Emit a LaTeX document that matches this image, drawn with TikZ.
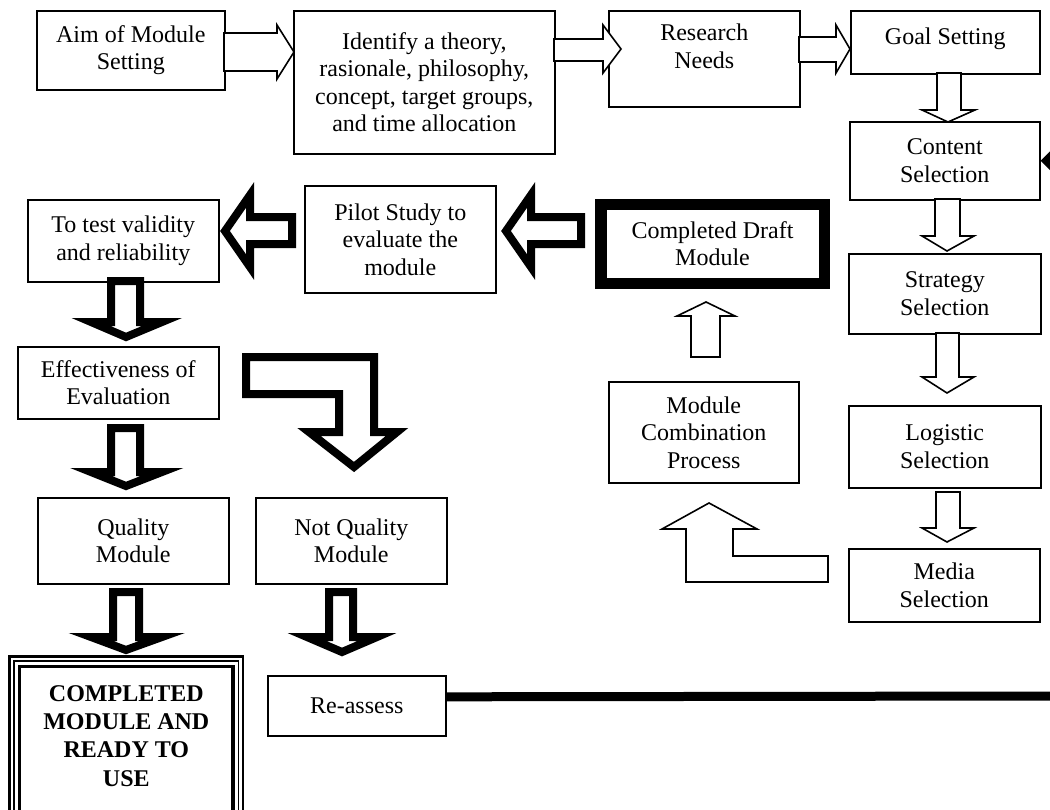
\documentclass[tikz,border=0pt]{standalone}
\usepackage{fontspec}
\setmainfont{Liberation Serif}
\begin{document}
\begin{tikzpicture}[x=1pt,y=-1pt,
  box/.style={draw, line width=1.6pt, align=center, inner sep=0pt, anchor=north west,
    font=\fontsize{24}{27.5}\selectfont},
  thinarrow/.style={draw, line width=1.6pt, fill=white, line join=miter},
  thickarrow/.style={draw, line width=8pt, fill=white, line join=miter, miter limit=10},
]
\useasboundingbox (0,0) rectangle (1050,809);
\clip (0,0) rectangle (1050,809);
\fill[white] (0,0) rectangle (1050,809);

% ---------- boxes ----------
\node[box, minimum width=188, minimum height=79] (aim) at (36,10) {Aim of Module\\Setting};
\node[box, minimum width=261, minimum height=143] (ident) at (293,10)
  {Identify a theory,\\rasionale, philosophy,\\concept, target groups,\\and time allocation};
\node[box, minimum width=191, minimum height=96] (research) at (608,10)
  {\raisebox{10pt}[\height][\depth]{\begin{tabular}{@{}c@{}}Research\\Needs\end{tabular}}};
\node[box, minimum width=189, minimum height=63] (goal) at (850,10)
  {\raisebox{4pt}[\height][\depth]{Goal Setting}};
\node[box, minimum width=190, minimum height=78] (content) at (849,121) {Content\\Selection};
\node[box, minimum width=192, minimum height=80] (strategy) at (848,253) {Strategy\\Selection};
\node[box, minimum width=192, minimum height=82] (logistic) at (848,405) {Logistic\\Selection};
\node[box, minimum width=191, minimum height=73] (media) at (848,548) {Media\\Selection};
\node[box, line width=11.5pt, minimum width=223.5, minimum height=79] (draft) at (595,198.5)
  {Completed Draft\\Module};
\node[box, minimum width=190, minimum height=101] (combo) at (608,381)
  {Module\\Combination\\Process};
\node[box, minimum width=191, minimum height=107] (pilot) at (304,185)
  {Pilot Study to\\evaluate the\\module};
\node[box, minimum width=191, minimum height=82] (test) at (27,199)
  {To test validity\\and reliability};
\node[box, minimum width=201, minimum height=72] (eff) at (17,346)
  {Effectiveness of\\Evaluation};
\node[box, minimum width=191, minimum height=86] (qual) at (37,497) {Quality\\Module};
\node[box, minimum width=191, minimum height=86] (notq) at (255,497) {Not Quality\\Module};
\node[box, minimum width=178, minimum height=60] (reassess) at (267,675) {Re-assess};
\node[box, draw=none, minimum width=235, minimum height=160,
  font=\fontsize{24}{28.3}\selectfont\bfseries] (done) at (8,655)
  {COMPLETED\\MODULE AND\\READY TO\\USE};
\draw[line width=2.6pt] ([shift={(1.5,1.5)}]done.north west) rectangle ([shift={(-1.5,30)}]done.south east);
\draw[line width=1.4pt] ([shift={(6,6)}]done.north west) rectangle ([shift={(-6,30)}]done.south east);
\draw[line width=3.4pt] ([shift={(11.5,11.5)}]done.north west) rectangle ([shift={(-11.5,30)}]done.south east);

% ---------- thin block arrows (top row) ----------
\draw[thinarrow] (224,33) -- (277,33) -- (277,25) -- (294,52) -- (277,79) -- (277,71) -- (224,71) -- cycle;
\draw[thinarrow] (554,39) -- (603,39) -- (603,25) -- (621,49) -- (603,73) -- (603,61) -- (554,61) -- cycle;
\draw[thinarrow] (799,37) -- (836,37) -- (836,25) -- (850,49) -- (836,73) -- (836,62) -- (799,62) -- cycle;

% ---------- thin block arrows (right column) ----------
\draw[thinarrow] (937,73) -- (937,110) -- (922,110) -- (948,122) -- (975,110) -- (961,110) -- (961,73) -- cycle;
\draw[thinarrow] (935,199) -- (935,236) -- (922,236) -- (947,251) -- (974,236) -- (960,236) -- (960,199) -- cycle;
\draw[thinarrow] (936,333) -- (936,377) -- (922,377) -- (947,393) -- (974,377) -- (959,377) -- (959,333) -- cycle;
\draw[thinarrow] (936,492) -- (936,528) -- (922,528) -- (947,542) -- (974,528) -- (960,528) -- (960,492) -- cycle;

% ---------- thin upward arrows ----------
\draw[thinarrow] (706,302) -- (735,316) -- (720,316) -- (720,357) -- (691,357) -- (691,316) -- (677,316) -- cycle;
\draw[thinarrow] (709,503) -- (757,529) -- (733,529) -- (733,556) -- (828,556) -- (828,582)
  -- (686,582) -- (686,529) -- (662,529) -- cycle;

% ---------- thick block arrows ----------
\draw[thickarrow] (581,217) -- (531,217) -- (531,195) -- (506,231) -- (531,267) -- (531,244) -- (581,244) -- cycle;
\draw[thickarrow] (292,217) -- (250,217) -- (250,195) -- (225,231) -- (250,267) -- (250,244) -- (292,244) -- cycle;
\draw[thickarrow] (111,281) -- (111,322) -- (91,322) -- (126,337) -- (162,322) -- (140,322) -- (140,281) -- cycle;
\draw[thickarrow] (111,428) -- (111,472) -- (91,472) -- (126,486) -- (162,472) -- (140,472) -- (140,428) -- cycle;
\draw[thickarrow] (113,592) -- (113,637) -- (91,637) -- (126,650) -- (162,637) -- (139,637) -- (139,592) -- cycle;
\draw[thickarrow] (329,592) -- (329,637) -- (307,637) -- (342,652) -- (377,637) -- (353,637) -- (353,592) -- cycle;
\draw[thickarrow] (246,357) -- (374,357) -- (374,432) -- (397,432) -- (354,467) -- (309,432)
  -- (339,432) -- (339,394) -- (246,394) -- cycle;

% ---------- re-assess line and right-edge tip ----------
\coordinate (offpage) at (1060,696);
\draw[line width=9pt] ([yshift=9pt]reassess.east) -- (offpage);
\fill ([xshift=0pt]content.east) -- ++(12,-12) -- ++(0,24) -- cycle;
\end{tikzpicture}
\end{document}
